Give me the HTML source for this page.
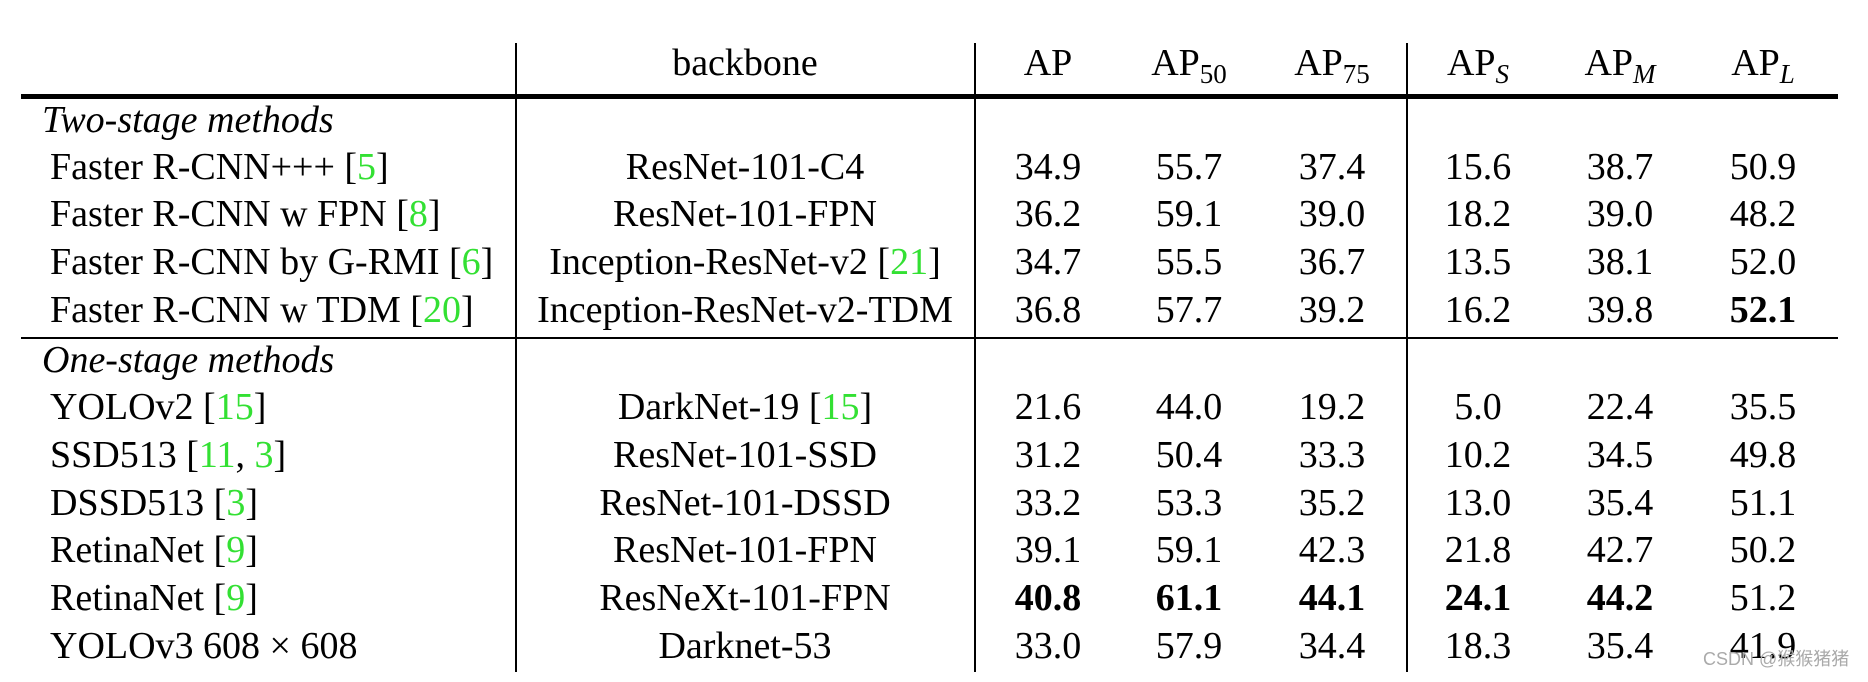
<!DOCTYPE html>
<html><head><meta charset="utf-8"><style>
html,body{margin:0;padding:0;background:#fff;}
body{width:1868px;height:682px;position:relative;overflow:hidden;font-family:"Liberation Serif",serif;font-size:38px;color:#000;}
.t{position:absolute;white-space:nowrap;line-height:1;transform:translate(-50%,-50%);}
.l{position:absolute;white-space:nowrap;line-height:1;transform:translateY(-50%);}
.g{color:#33e033;}
.b{font-weight:bold;}
sub{font-size:27px;vertical-align:-8px;line-height:0;}
.hl{position:absolute;background:#000;}
.wm{position:absolute;left:1703px;top:650px;font-family:"Liberation Sans","Noto Sans CJK SC",sans-serif;font-size:18px;color:#aaa;line-height:1;}
</style></head><body>
<div class="hl" style="left:515px;top:43px;width:2px;height:629px"></div>
<div class="hl" style="left:974px;top:43px;width:2px;height:629px"></div>
<div class="hl" style="left:1406px;top:43px;width:2px;height:629px"></div>
<div class="hl" style="left:21px;top:94px;width:1817px;height:5px"></div>
<div class="hl" style="left:21px;top:337px;width:1817px;height:2px"></div>

<div class="t" style="left:745px;top:63px">backbone</div>
<div class="t" style="left:1048px;top:63px">AP</div>
<div class="t" style="left:1189px;top:63px">AP<sub>50</sub></div>
<div class="t" style="left:1332px;top:63px">AP<sub>75</sub></div>
<div class="t" style="left:1478px;top:63px">AP<sub><i>S</i></sub></div>
<div class="t" style="left:1620px;top:63px">AP<sub><i>M</i></sub></div>
<div class="t" style="left:1763px;top:63px">AP<sub><i>L</i></sub></div>

<div class="l" style="left:42px;top:120px"><i>Two-stage methods</i></div>
<div class="l" style="left:42px;top:360px"><i>One-stage methods</i></div>

<div class="l" style="left:50px;top:167px">Faster R-CNN+++ [<span class="g">5</span>]</div>
<div class="t" style="left:745px;top:167px">ResNet-101-C4</div>
<div class="t" style="left:1048px;top:167px">34.9</div><div class="t" style="left:1189px;top:167px">55.7</div><div class="t" style="left:1332px;top:167px">37.4</div><div class="t" style="left:1478px;top:167px">15.6</div><div class="t" style="left:1620px;top:167px">38.7</div><div class="t" style="left:1763px;top:167px">50.9</div>

<div class="l" style="left:50px;top:214px">Faster R-CNN w FPN [<span class="g">8</span>]</div>
<div class="t" style="left:745px;top:214px">ResNet-101-FPN</div>
<div class="t" style="left:1048px;top:214px">36.2</div><div class="t" style="left:1189px;top:214px">59.1</div><div class="t" style="left:1332px;top:214px">39.0</div><div class="t" style="left:1478px;top:214px">18.2</div><div class="t" style="left:1620px;top:214px">39.0</div><div class="t" style="left:1763px;top:214px">48.2</div>

<div class="l" style="left:50px;top:262px">Faster R-CNN by G-RMI [<span class="g">6</span>]</div>
<div class="t" style="left:745px;top:262px">Inception-ResNet-v2 [<span class="g">21</span>]</div>
<div class="t" style="left:1048px;top:262px">34.7</div><div class="t" style="left:1189px;top:262px">55.5</div><div class="t" style="left:1332px;top:262px">36.7</div><div class="t" style="left:1478px;top:262px">13.5</div><div class="t" style="left:1620px;top:262px">38.1</div><div class="t" style="left:1763px;top:262px">52.0</div>

<div class="l" style="left:50px;top:310px">Faster R-CNN w TDM [<span class="g">20</span>]</div>
<div class="t" style="left:745px;top:310px">Inception-ResNet-v2-TDM</div>
<div class="t" style="left:1048px;top:310px">36.8</div><div class="t" style="left:1189px;top:310px">57.7</div><div class="t" style="left:1332px;top:310px">39.2</div><div class="t" style="left:1478px;top:310px">16.2</div><div class="t" style="left:1620px;top:310px">39.8</div><div class="t b" style="left:1763px;top:310px">52.1</div>

<div class="l" style="left:50px;top:407px">YOLOv2 [<span class="g">15</span>]</div>
<div class="t" style="left:745px;top:407px">DarkNet-19 [<span class="g">15</span>]</div>
<div class="t" style="left:1048px;top:407px">21.6</div><div class="t" style="left:1189px;top:407px">44.0</div><div class="t" style="left:1332px;top:407px">19.2</div><div class="t" style="left:1478px;top:407px">5.0</div><div class="t" style="left:1620px;top:407px">22.4</div><div class="t" style="left:1763px;top:407px">35.5</div>

<div class="l" style="left:50px;top:455px">SSD513 [<span class="g">11</span>, <span class="g">3</span>]</div>
<div class="t" style="left:745px;top:455px">ResNet-101-SSD</div>
<div class="t" style="left:1048px;top:455px">31.2</div><div class="t" style="left:1189px;top:455px">50.4</div><div class="t" style="left:1332px;top:455px">33.3</div><div class="t" style="left:1478px;top:455px">10.2</div><div class="t" style="left:1620px;top:455px">34.5</div><div class="t" style="left:1763px;top:455px">49.8</div>

<div class="l" style="left:50px;top:503px">DSSD513 [<span class="g">3</span>]</div>
<div class="t" style="left:745px;top:503px">ResNet-101-DSSD</div>
<div class="t" style="left:1048px;top:503px">33.2</div><div class="t" style="left:1189px;top:503px">53.3</div><div class="t" style="left:1332px;top:503px">35.2</div><div class="t" style="left:1478px;top:503px">13.0</div><div class="t" style="left:1620px;top:503px">35.4</div><div class="t" style="left:1763px;top:503px">51.1</div>

<div class="l" style="left:50px;top:550px">RetinaNet [<span class="g">9</span>]</div>
<div class="t" style="left:745px;top:550px">ResNet-101-FPN</div>
<div class="t" style="left:1048px;top:550px">39.1</div><div class="t" style="left:1189px;top:550px">59.1</div><div class="t" style="left:1332px;top:550px">42.3</div><div class="t" style="left:1478px;top:550px">21.8</div><div class="t" style="left:1620px;top:550px">42.7</div><div class="t" style="left:1763px;top:550px">50.2</div>

<div class="l" style="left:50px;top:598px">RetinaNet [<span class="g">9</span>]</div>
<div class="t" style="left:745px;top:598px">ResNeXt-101-FPN</div>
<div class="t b" style="left:1048px;top:598px">40.8</div><div class="t b" style="left:1189px;top:598px">61.1</div><div class="t b" style="left:1332px;top:598px">44.1</div><div class="t b" style="left:1478px;top:598px">24.1</div><div class="t b" style="left:1620px;top:598px">44.2</div><div class="t" style="left:1763px;top:598px">51.2</div>

<div class="l" style="left:50px;top:646px">YOLOv3 608 × 608</div>
<div class="t" style="left:745px;top:646px">Darknet-53</div>
<div class="t" style="left:1048px;top:646px">33.0</div><div class="t" style="left:1189px;top:646px">57.9</div><div class="t" style="left:1332px;top:646px">34.4</div><div class="t" style="left:1478px;top:646px">18.3</div><div class="t" style="left:1620px;top:646px">35.4</div><div class="t" style="left:1763px;top:646px">41.9</div>

<div class="wm">CSDN @猴猴猪猪</div>
</body></html>
